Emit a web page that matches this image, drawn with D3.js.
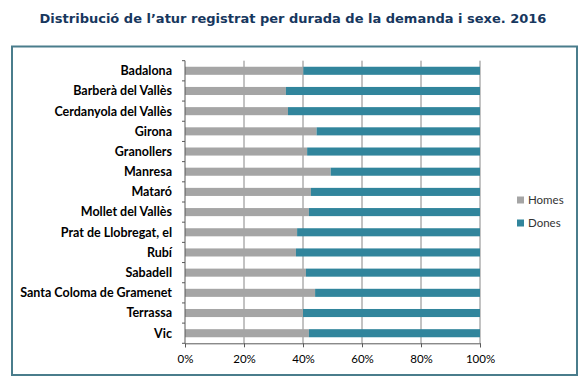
<!DOCTYPE html>
<html>
<head>
<meta charset="utf-8">
<script src="https://cdn.jsdelivr.net/npm/d3@7"></script>
<style>
  body { margin: 0; background: #fff; }
  svg { display: block; }
  .axis-label { font-family: Lato, "Open Sans", sans-serif; font-size: 11.5px; fill: #000; }
</style>
</head>
<body>
<div id="chart"></div>
<script>
// municipalities, top to bottom
const categories = ['Badalona', 'Barberà del Vallès', 'Cerdanyola del Vallès', 'Girona', 'Granollers',
  'Manresa', 'Mataró', 'Mollet del Vallès', 'Prat de Llobregat, el', 'Rubí', 'Sabadell',
  'Santa Coloma de Gramenet', 'Terrassa', 'Vic'];
// share of men (%) ; women = 100 - men
const homes = [40.1, 34.2, 34.9, 44.6, 41.4, 49.4, 42.7, 42.0, 38.0, 37.6, 41.0, 44.1, 40.0, 42.0];
const dones = homes.map(v => 100 - v);
const seriesNames = ['Homes', 'Dones'];
const xTicks = [0, 20, 40, 60, 80, 100];

const colors = {Homes: '#a5a5a5', Dones: '#31859c'};
const W = 585, H = 377;
const margin = {top: 60.7, left: 185, right: 105, bottom: 33.7};

const svg = d3.select('#chart').append('svg')
  .attr('width', W).attr('height', H);

// title
svg.append('text')
  .attr('x', 293).attr('y', 23)
  .attr('text-anchor', 'middle')
  .style('font-family', '"DejaVu Sans", Verdana, sans-serif')
  .style('font-weight', 'bold')
  .style('font-size', '13px')
  .style('fill', '#17375e')
  .text('Distribució de l’atur registrat per durada de la demanda i sexe. 2016');

// outer frame
svg.append('rect')
  .attr('x', 12).attr('y', 46.5)
  .attr('width', 565).attr('height', 328.5)
  .attr('fill', 'none')
  .attr('stroke', '#4a7d8c')
  .attr('stroke-width', 2);

const width = W - margin.left - margin.right;
const height = H - margin.top - margin.bottom;
const chart = svg.append('g')
  .attr('transform', `translate(${margin.left},${margin.top})`);

const xScale = d3.scaleLinear().domain([0, 100]).range([0, width]);
const yScale = d3.scaleBand().domain(categories).range([0, height])
  .paddingInner(0.6).paddingOuter(0.3);

// vertical gridlines
chart.append('g')
  .selectAll('line')
  .data(xTicks.slice(1))
  .join('line')
  .attr('x1', d => xScale(d)).attr('x2', d => xScale(d))
  .attr('y1', 0).attr('y2', height)
  .attr('stroke', '#868686')
  .attr('stroke-width', 1);

// stacked bars
const rows = categories.map((c, i) => ({cat: c, Homes: homes[i], Dones: dones[i]}));
const stacked = d3.stack().keys(seriesNames)(rows);

chart.append('g')
  .selectAll('g')
  .data(stacked)
  .join('g')
  .attr('fill', s => colors[s.key])
  .selectAll('rect')
  .data(s => s)
  .join('rect')
  .attr('x', d => xScale(d[0]))
  .attr('width', d => xScale(d[1]) - xScale(d[0]))
  .attr('y', d => yScale(d.data.cat))
  .attr('height', yScale.bandwidth());

// y axis: line plus tick marks between categories
const yAxisG = chart.append('g');
yAxisG.append('line')
  .attr('x1', 0).attr('x2', 0).attr('y1', 0).attr('y2', height)
  .attr('stroke', '#595959');
yAxisG.selectAll('.ytick')
  .data(d3.range(categories.length + 1))
  .join('line')
  .attr('class', 'ytick')
  .attr('x1', -3).attr('x2', 0)
  .attr('y1', i => i * height / categories.length)
  .attr('y2', i => i * height / categories.length)
  .attr('stroke', '#595959');
yAxisG.selectAll('.ylabel')
  .data(categories)
  .join('text')
  .attr('class', 'axis-label')
  .attr('x', -13)
  .attr('y', d => yScale(d) + yScale.bandwidth() / 2)
  .attr('dy', '0.35em')
  .attr('text-anchor', 'end')
  .style('font-weight', 'bold')
  .style('font-size', '12.5px')
  .text(d => d);

// x axis
const xAxis = d3.axisBottom(xScale)
  .tickValues(xTicks)
  .tickSize(4)
  .tickPadding(8)
  .tickFormat(d => d + '%');
const xAxisG = chart.append('g')
  .attr('transform', `translate(0,${height})`)
  .call(xAxis);
xAxisG.select('.domain').attr('stroke', '#595959');
xAxisG.selectAll('.tick line').attr('stroke', '#595959');
xAxisG.selectAll('.tick text')
  .attr('class', 'axis-label')
  .attr('fill', '#000');

// legend
const legend = svg.append('g')
  .attr('transform', 'translate(517,196.5)');
const items = legend.selectAll('g')
  .data(seriesNames)
  .join('g')
  .attr('transform', (d, i) => `translate(0,${i * 23})`);
items.append('rect')
  .attr('width', 7).attr('height', 7)
  .attr('fill', d => colors[d]);
items.append('text')
  .attr('class', 'axis-label')
  .attr('x', 11).attr('y', 3.5)
  .attr('dy', '0.35em')
  .style('fill', '#333')
  .text(d => d);
</script>
</body>
</html>
